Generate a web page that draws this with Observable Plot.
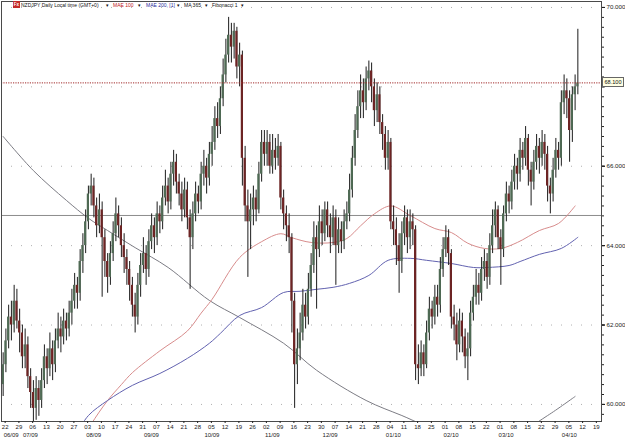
<!DOCTYPE html>
<html><head><meta charset="utf-8">
<script src="https://cdn.jsdelivr.net/npm/d3@7"></script>
<script src="https://cdn.jsdelivr.net/npm/@observablehq/plot@0.6"></script>
<style>
body{margin:0;background:#fff;}
#wrap{position:relative;width:625px;height:445px;font-family:"Liberation Sans",Arial,sans-serif;overflow:hidden;}
.h{position:absolute;top:2px;font-size:5px;line-height:7px;white-space:nowrap;color:#111;}
#fx{position:absolute;left:13px;top:1px;width:7px;height:7px;background:#c42a2a;color:#fff;font-size:4.5px;line-height:7px;text-align:center;font-weight:bold;}
#lastbox{position:absolute;left:602px;width:20px;height:8px;border:1px solid #666;background:#ffffe4;font-size:5.6px;line-height:8px;text-align:center;color:#111;}
</style></head>
<body><div id="wrap"></div>
<script>
const startDate = "2009-06-22", endDate = "2010-04-22";
const opens = [60.5,61.0,61.6,62.2,62.0,62.6,62.1,61.8,61.2,61.5,
60.7,60.3,59.9,60.4,60.1,60.6,61.2,60.9,61.4,61.0,
61.6,61.9,61.7,62.1,61.9,62.3,62.6,63.0,62.8,63.6,
64.0,64.6,65.3,65.5,65.0,64.5,64.9,64.2,63.6,63.2,
63.8,64.3,64.8,64.5,64.0,63.7,63.4,63.0,62.5,62.2,
63.0,63.5,63.8,63.4,64.1,64.5,64.2,64.8,64.6,65.2,
65.5,65.1,65.8,66.1,65.6,65.3,64.9,65.4,64.7,64.2,
64.8,65.3,65.1,65.8,66.0,65.7,66.3,66.6,67.2,67.0,
67.7,68.3,68.8,69.3,69.0,69.4,68.5,68.8,66.2,65.0,
64.6,64.9,65.2,64.9,65.8,66.6,66.3,66.6,66.0,66.4,
66.2,66.5,65.2,64.8,64.5,64.2,62.6,61.0,61.4,61.8,
62.5,62.2,62.9,63.5,64.2,63.9,64.6,64.3,64.9,64.5,
64.2,64.7,64.0,64.4,64.1,64.6,64.8,65.4,66.2,66.9,
67.5,67.9,67.6,68.2,68.4,68.0,67.4,67.8,67.1,66.8,
66.2,66.6,64.6,64.4,64.0,63.6,64.3,64.7,64.2,64.6,
64.4,61.0,60.9,61.3,61.0,61.8,62.4,62.2,62.7,62.5,
63.4,63.9,64.2,63.8,62.2,62.0,61.5,62.1,61.7,61.2,
61.4,62.3,62.7,63.0,62.8,63.4,63.6,63.2,64.0,64.5,
64.9,64.2,63.9,64.8,65.3,65.1,65.6,66.0,65.8,66.4,
66.2,66.7,65.9,65.6,66.1,66.5,66.2,66.6,66.3,65.5,
65.3,65.9,66.4,66.2,67.6,67.9,67.7,66.9,67.8,68.0];
const highs = [61.3,61.9,62.5,62.6,63.0,62.9,62.4,62.0,61.9,61.7,
60.9,60.6,60.7,60.6,60.9,61.5,61.4,61.8,61.6,61.9,
62.3,62.2,62.4,62.3,62.6,62.9,63.3,63.2,63.9,64.3,
64.9,65.5,65.8,65.7,65.2,65.3,65.1,64.4,63.8,64.1,
64.6,65.2,65.0,64.7,64.3,63.9,63.6,63.2,62.8,63.3,
63.8,64.2,64.0,64.4,64.8,64.7,65.1,65.0,65.5,65.9,
65.7,66.1,66.4,66.3,65.8,65.6,65.7,65.6,64.9,65.1,
65.6,65.5,66.1,66.4,66.2,66.6,67.0,67.5,67.6,68.0,
68.7,69.2,69.75,69.6,69.6,69.5,69.1,68.9,66.5,65.4,
65.3,65.5,65.4,66.1,66.9,66.9,66.9,66.8,66.8,66.7,
66.8,66.6,65.4,65.0,64.8,64.3,62.8,61.9,62.3,62.9,
62.8,63.3,63.8,64.6,64.5,65.0,64.9,65.1,65.1,64.8,
65.0,64.9,64.7,64.6,64.9,65.1,65.8,66.5,67.3,67.9,
68.3,68.2,68.5,68.65,68.6,68.2,68.1,68.0,67.3,67.0,
66.9,66.7,65.0,64.7,64.3,64.6,65.0,64.9,64.9,64.8,
64.5,61.5,61.6,61.5,62.1,62.7,62.6,63.0,63.0,63.7,
64.2,64.5,64.4,63.9,62.5,62.3,62.4,62.3,61.9,61.8,
62.6,63.0,63.4,63.3,63.7,63.9,63.8,64.3,64.9,65.1,
65.0,64.4,65.0,65.6,65.5,65.9,66.3,66.2,66.7,66.6,
67.0,66.8,66.1,66.4,66.8,66.7,66.9,66.8,66.5,65.7,
66.2,66.7,66.6,67.9,68.3,68.2,67.9,68.0,68.3,69.45];
const lows = [60.2,60.8,61.4,61.6,61.8,61.9,61.3,60.9,60.9,60.4,
59.9,59.5,59.6,59.7,59.9,60.4,60.5,60.7,60.6,60.8,
61.4,61.3,61.5,61.6,61.7,62.0,62.4,62.4,62.6,63.3,
63.8,64.4,65.0,64.7,64.2,64.3,62.7,63.2,62.8,63.0,
63.6,64.1,64.2,63.7,63.3,63.0,62.6,62.2,61.8,62.0,
62.7,63.3,63.0,63.2,63.9,63.8,64.0,64.3,64.4,65.0,
64.8,64.9,65.5,65.3,65.0,64.6,64.7,64.4,62.9,63.9,
64.6,64.8,64.9,65.5,65.3,65.5,66.0,66.4,66.7,66.8,
67.5,68.1,68.6,68.6,68.7,68.2,68.0,65.5,64.6,63.2,
63.9,64.5,64.6,64.8,65.6,66.0,66.0,65.8,65.8,65.9,
66.0,64.9,64.4,64.1,63.8,61.8,59.9,60.5,61.1,61.6,
61.9,62.0,62.7,63.3,62.4,63.7,64.0,64.1,64.2,63.8,
64.0,63.0,63.8,63.8,63.9,64.4,64.6,65.2,66.0,66.7,
67.2,67.2,67.4,67.9,67.6,67.0,67.1,66.8,66.4,65.9,
65.9,64.4,64.0,63.5,62.8,63.3,64.0,63.8,63.9,64.0,
60.6,60.5,60.7,60.7,60.9,61.6,61.9,62.0,62.2,62.3,
63.2,63.7,63.5,61.9,61.6,61.1,61.3,61.3,60.9,60.6,
61.2,62.1,62.5,62.5,62.6,63.1,62.9,63.0,63.8,64.2,
63.9,63.0,63.7,64.6,64.8,64.9,65.4,65.4,65.6,65.9,
66.0,65.5,65.0,65.4,65.9,65.8,66.0,65.9,65.1,64.8,
65.1,65.7,65.9,66.0,67.3,67.2,66.1,66.6,67.4,67.8];
const closes = [61.0,61.6,62.2,62.0,62.6,62.1,61.8,61.2,61.5,60.7,
60.3,59.9,60.4,60.1,60.6,61.2,60.9,61.4,61.0,61.6,
61.9,61.7,62.1,61.9,62.3,62.6,63.0,62.8,63.6,64.0,
64.6,65.3,65.5,65.0,64.5,64.9,64.2,63.6,63.2,63.8,
64.3,64.8,64.5,64.0,63.7,63.4,63.0,62.5,62.2,63.0,
63.5,63.8,63.4,64.1,64.5,64.2,64.8,64.6,65.2,65.5,
65.1,65.8,66.1,65.6,65.3,64.9,65.4,64.7,64.2,64.8,
65.3,65.1,65.8,66.0,65.7,66.3,66.6,67.2,67.0,67.7,
68.3,68.8,69.3,69.0,69.4,68.5,68.8,66.2,65.0,64.6,
64.9,65.2,64.9,65.8,66.6,66.3,66.6,66.0,66.4,66.2,
66.5,65.2,64.8,64.5,64.2,62.6,61.0,61.4,61.8,62.5,
62.2,62.9,63.5,64.2,63.9,64.6,64.3,64.9,64.5,64.2,
64.7,64.0,64.4,64.1,64.6,64.8,65.4,66.2,66.9,67.5,
67.9,67.6,68.2,68.4,68.0,67.4,67.8,67.1,66.8,66.2,
66.6,64.6,64.4,64.0,63.6,64.3,64.7,64.2,64.6,64.4,
61.0,60.9,61.3,61.0,61.8,62.4,62.2,62.7,62.5,63.4,
63.9,64.2,63.8,62.2,62.0,61.5,62.1,61.7,61.2,61.4,
62.3,62.7,63.0,62.8,63.4,63.6,63.2,64.0,64.5,64.9,
64.2,63.9,64.8,65.3,65.1,65.6,66.0,65.8,66.4,66.2,
66.7,65.9,65.6,66.1,66.5,66.2,66.6,66.3,65.5,65.3,
65.9,66.4,66.2,67.6,67.9,67.7,66.9,67.8,68.0,68.1];

// MAE 100 (red) read at bar positions
const mae100Bars = [28,32,38,43,47,57,67,72,76,86,94,101,105,112,120,125,130,135,141,148,157,163,169,175,181,187,195,202,208];
const mae100Vals = [59.0,59.5,60.1,60.5,60.8,61.35,61.85,62.3,62.65,63.7,64.1,64.3,64.2,64.08,64.08,64.18,64.5,64.8,65.0,64.76,64.43,64.33,64.06,63.93,63.93,64.08,64.38,64.56,65.0];
// MAE 200 (blue)
const mae200Bars = [27,31,38,47,57,67,75,79,86,94,102,108,114,120,126,133,140,148,154,163,171,176,184,188,195,203,209];
const mae200Vals = [59.3,59.72,60.1,60.48,60.78,61.16,61.54,61.79,62.24,62.44,62.82,62.85,62.9,62.95,63.05,63.25,63.63,63.68,63.63,63.55,63.45,63.45,63.5,63.6,63.78,63.93,64.21];
// MA 365 (grey)
const ma365Bars = [0,11,23,31,38,48,60,75,86,102,114,132,145,160,175,190,198,208];
const ma365Vals = [66.75,65.89,65.14,64.69,64.38,63.95,63.45,62.62,62.19,61.54,60.86,60.10,59.72,59.3,59.2,59.4,59.72,60.2];

const fibLevel = 64.76;
const lastPrice = 68.1;
const yMajor = [60, 62, 64, 66, 68, 70];
const monthTicks = ["2009-06-22","2009-07-01","2009-08-03","2009-09-01","2009-10-01","2009-11-02","2009-12-01","2010-01-01","2010-02-01","2010-03-01","2010-04-01"];
const monthLabels = ["06/09","07/09","08/09","09/09","10/09","11/09","12/09","01/10","02/10","03/10","04/10"];

const dates = d3.utcDay.range(new Date(startDate), new Date(endDate))
  .filter(d => d.getUTCDay() % 6 !== 0)
  .map(d => d.toISOString().slice(0, 10));
const candles = opens.map((o, i) => ({date: dates[i], open: o, high: highs[i], low: lows[i], close: closes[i]}));
const up = candles.filter(d => d.close >= d.open);
const down = candles.filter(d => d.close < d.open);
const toLine = (bars, vals) => bars.map((b, j) => ({date: dates[b], v: vals[j]}));
const dayTicks = dates.filter(d => new Date(d).getUTCDay() === 1);
const monthMap = new Map(monthTicks.map((d, i) => [d, monthLabels[i]]));
const yMinor = d3.range(59.75, 70.01, 0.25);
// the last-price box hides the label of the tick it sits on
const yLabelTicks = yMajor.filter(v => Math.abs(v - lastPrice) > 0.5);

const chart = Plot.plot({
  width: 625, height: 445,
  marginTop: 1, marginBottom: 24, marginLeft: 1, marginRight: 24,
  style: {fontFamily: "Liberation Sans, Arial, sans-serif", background: "white", color: "#222"},
  x: {type: "band", domain: dates, padding: 0.2},
  y: {domain: [59.57, 70.15]},
  marks: [
    Plot.ruleY(yMajor, {stroke: "#b0b0b0", strokeDasharray: "1,9"}),
    Plot.ruleY([fibLevel], {stroke: "#8c8c8c", strokeWidth: 1}),
    Plot.line(toLine(ma365Bars, ma365Vals), {x: "date", y: "v", stroke: "#7c7c84", strokeWidth: 1, curve: "catmull-rom", clip: true}),
    Plot.line(toLine(mae100Bars, mae100Vals), {x: "date", y: "v", stroke: "#d88c8c", strokeWidth: 1, curve: "catmull-rom", clip: true}),
    Plot.line(toLine(mae200Bars, mae200Vals), {x: "date", y: "v", stroke: "#6262b0", strokeWidth: 1, curve: "catmull-rom", clip: true}),
    Plot.ruleX(candles, {x: "date", y1: "low", y2: "high", stroke: "#1c1c1c", strokeWidth: 1, clip: true}),
    Plot.barY(up, {x: "date", y1: "open", y2: "close", fill: "#4f6a54", clip: true}),
    Plot.barY(down, {x: "date", y1: "open", y2: "close", fill: "#6d2424", clip: true}),
    Plot.ruleY([lastPrice], {stroke: "#a02828", strokeWidth: 1, strokeDasharray: "1.2,1.2"}),
    Plot.frame({stroke: "#4a4a4a"}),
    Plot.axisY({anchor: "right", ticks: yMajor, tickFormat: () => "", tickSize: 3, label: null}),
    Plot.axisY({anchor: "right", ticks: yLabelTicks, tickFormat: d3.format(".3f"), tickSize: 3, tickPadding: 2, fontSize: 6.2, label: null}),
    Plot.axisY({anchor: "right", ticks: yMinor, tickFormat: () => "", tickSize: 2, label: null}),
    Plot.axisX({anchor: "bottom", ticks: dayTicks, tickFormat: d => d.slice(8), tickSize: 2, tickPadding: 1, fontSize: 6, dx: 2, label: null}),
    Plot.axisX({anchor: "bottom", ticks: monthTicks, tickFormat: d => monthMap.get(d), tickSize: 0, tickPadding: 11, fontSize: 6, dx: 8, label: null})
  ]
});

const wrap = document.getElementById("wrap");
wrap.appendChild(chart);

const hdr = [
  ["NZDJPY Daily Local time (GMT+0)", 21, "#111"], ["▾", 106, "#111"],
  ["MAE 100", 113, "#c01818"], ["▾", 138, "#111"],
  ["MAE 200, [1]", 146, "#2a2a9a"], ["▾", 177, "#111"],
  ["MA 365", 184, "#111"], ["▾", 205, "#111"],
  ["Fibonacci 1", 212, "#111"], ["▾", 241, "#111"]
];
const fx = document.createElement("div"); fx.id = "fx"; fx.textContent = "Fx"; wrap.appendChild(fx);
for (const [t, x, c] of hdr) {
  const s = document.createElement("div");
  s.className = "h"; s.style.left = x + "px"; s.style.color = c; s.textContent = t;
  wrap.appendChild(s);
}
const box = document.createElement("div");
box.id = "lastbox";
box.style.top = (chart.scale("y").apply(lastPrice) - 5) + "px";
box.textContent = d3.format(".3f")(lastPrice);
wrap.appendChild(box);
</script>
</body></html>
